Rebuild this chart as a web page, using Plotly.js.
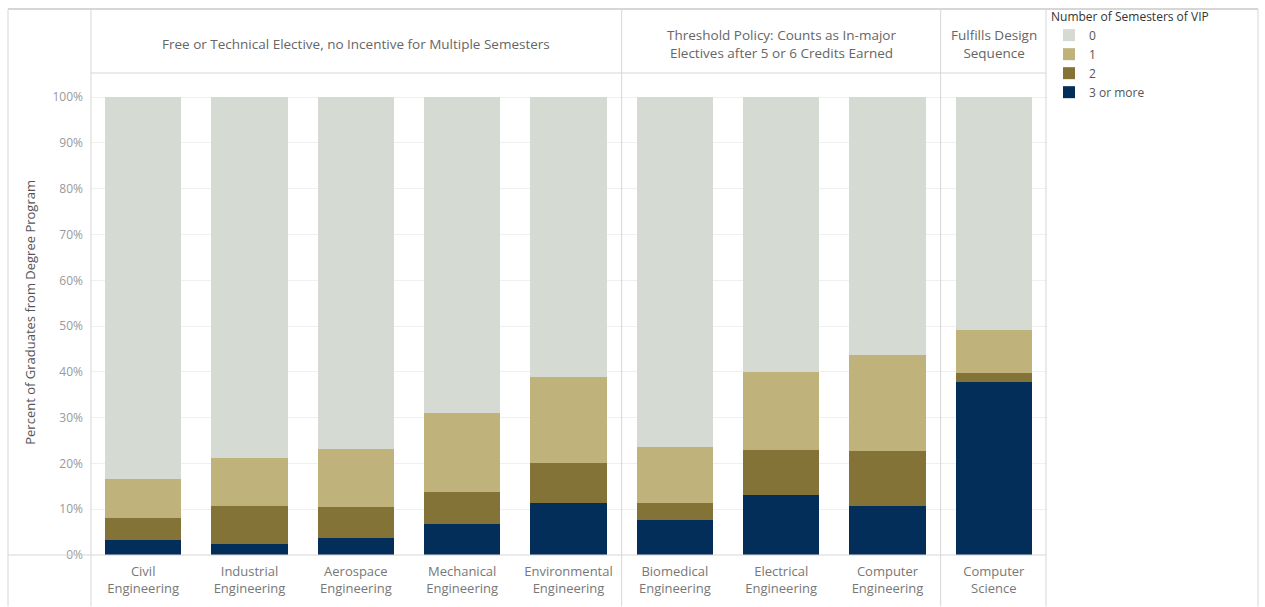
<!DOCTYPE html>
<html>
<head>
<meta charset="utf-8">
<script src="https://cdn.plot.ly/plotly-3.0.1.min.js"></script>
<style>html,body{margin:0;padding:0;background:#fff;}#chart{width:1265px;height:607px;}</style>
</head>
<body>
<div id="chart"></div>
<script>
var categories = ["Civil<br>Engineering","Industrial<br>Engineering","Aerospace<br>Engineering","Mechanical<br>Engineering","Environmental<br>Engineering","Biomedical<br>Engineering","Electrical<br>Engineering","Computer<br>Engineering","Computer<br>Science"];
var sem3plus = [3.3, 2.5, 3.7, 6.8, 11.3, 7.7, 13.2, 10.7, 37.8];
var sem2     = [4.8, 8.2, 6.8, 7.0, 8.8, 3.7, 9.8, 12.0, 1.9];
var sem1     = [8.5, 10.5, 12.7, 17.2, 18.7, 12.2, 17.0, 21.0, 9.5];
var sem0     = [83.4, 78.8, 76.8, 69.0, 61.2, 76.4, 60.0, 56.3, 50.8];
var seriesNames = ["3 or more", "2", "1", "0"];
var groupLabels = ["Free or Technical Elective, no Incentive for Multiple Semesters",
                   "Threshold Policy: Counts as In-major<br>Electives after 5 or 6 Credits Earned",
                   "Fulfills Design<br>Sequence"];
var groupStart = [0, 5, 8];
var groupEnd = [4, 7, 8];
var yTicks = [0,10,20,30,40,50,60,70,80,90,100];

var colors = ["#042e5a", "#847336", "#bfb27a", "#d5dad3"];
var vals = [sem3plus, sem2, sem1, sem0];
var traces = vals.map(function(v, i){
  return {type:"bar", x:categories, y:v, name:seriesNames[i],
          marker:{color:colors[i], line:{width:0}}, hoverinfo:"x+y+name"};
});

var L = 90, R = 1047, T = 72, B = 555.5;
function px(x){ return (x - L) / (R - L); }
function py(y){ return (B - y) / (B - T); }

var lineCol = "#d6d6d6";
var shapes = [];
function hline(y, x0, x1, w){ shapes.push({type:"line", xref:"paper", yref:"paper", x0:px(x0), x1:px(x1), y0:py(y), y1:py(y), line:{color:lineCol, width:w||1}}); }
function vline(x, y0, y1, w){ shapes.push({type:"line", xref:"paper", yref:"paper", x0:px(x), x1:px(x), y0:py(y0), y1:py(y1), line:{color:lineCol, width:w||1}}); }
hline(9, 8, 1258, 2);
hline(73, 91, 1046, 1);
hline(555.5, 8, 1046, 1);
vline(8, 9, 607); vline(91, 9, 607); vline(1046, 9, 607); vline(1258, 9, 607);
for (var g = 1; g < groupStart.length; g++) {
  shapes.push({type:"line", xref:"x", yref:"paper", x0:groupStart[g]-0.5, x1:groupStart[g]-0.5, y0:py(607), y1:py(9), line:{color:lineCol, width:1}});
}

var annotations = groupLabels.map(function(t, i){
  return {xref:"x", yref:"paper", x:(groupStart[i]+groupEnd[i])/2, y:py(43.5), text:t, showarrow:false,
          font:{family:"Open Sans, sans-serif", size:13.5, color:"#666"}, align:"center", xanchor:"center", yanchor:"middle"};
});
annotations.push({xref:"paper", yref:"paper", x:px(30), y:py(313), text:"Percent of Graduates from Degree Program",
  textangle:-90, showarrow:false, xanchor:"center", yanchor:"middle", font:{family:"Open Sans, sans-serif", size:13, color:"#555"}});

var layout = {
  width:1265, height:607,
  margin:{l:L, r:1265-R, t:T, b:607-B, pad:0, autoexpand:false},
  paper_bgcolor:"#fff", plot_bgcolor:"#fff",
  barmode:"stack", bargap:0.28,
  font:{family:"Open Sans, sans-serif", size:12, color:"#777"},
  xaxis:{type:"category", range:[-0.5, 8.5], showgrid:false, zeroline:false, showline:false, ticks:"",
         tickfont:{family:"Open Sans, sans-serif", size:13, color:"#777"}, ticklabelstandoff:7, fixedrange:true},
  yaxis:{range:[0, 105.5], tickvals:yTicks, ticktext:yTicks.map(function(v){return v+"%";}),
         showgrid:true, gridcolor:"#f0f0f0", zeroline:false, showline:false, ticks:"",
         tickfont:{family:"Open Sans, sans-serif", size:12, color:"#999"}, ticklabelstandoff:6, fixedrange:true},
  legend:{x:px(1049), y:py(5), xanchor:"left", yanchor:"top", traceorder:"reversed",
          title:{text:"Number of Semesters of VIP", font:{family:"Open Sans, sans-serif", size:12, color:"#333"}},
          font:{family:"Open Sans, sans-serif", size:12, color:"#555"}, bgcolor:"rgba(0,0,0,0)", itemwidth:30, tracegroupgap:0},
  shapes:shapes, annotations:annotations, showlegend:true
};
Plotly.newPlot("chart", traces, layout, {displayModeBar:false, staticPlot:true});
</script>
</body>
</html>
